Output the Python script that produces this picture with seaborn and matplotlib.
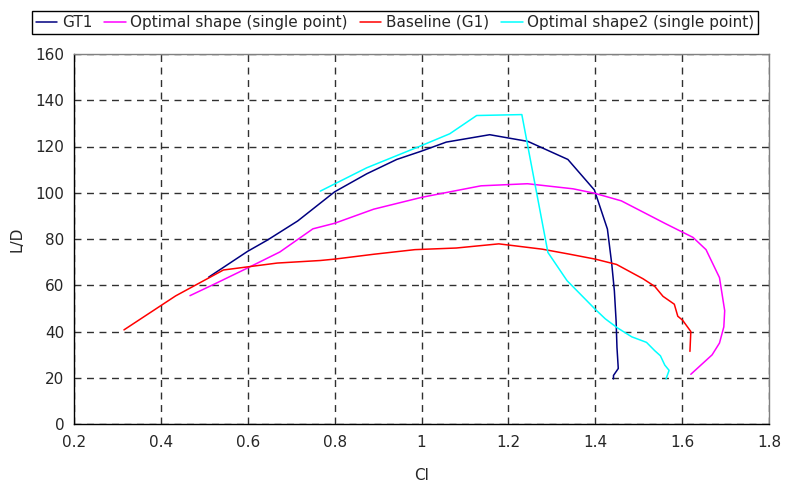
import matplotlib
matplotlib.use("Agg")
import matplotlib.pyplot as plt
import seaborn as sns
import pandas as pd
from matplotlib.lines import Line2D

gt1_cl = [0.51, 0.60, 0.645, 0.715, 0.80, 0.874, 0.943, 1.00, 1.057, 1.157, 1.245, 1.337, 1.398, 1.428, 1.438, 1.444, 1.448, 1.450, 1.453, 1.442, 1.442]
gt1_ld = [63.5, 74.7, 79.5, 87.8, 100.4, 108.2, 114.4, 118.0, 121.9, 125.1, 122.2, 114.4, 101.2, 84.3, 69.2, 57.6, 44.6, 33.1, 24.0, 21.0, 19.5]

opt_cl = [0.467, 0.522, 0.60, 0.674, 0.75, 0.80, 0.89, 1.00, 1.06, 1.137, 1.244, 1.349, 1.398, 1.46, 1.56, 1.625, 1.655, 1.686, 1.698, 1.696, 1.686, 1.669, 1.620]
opt_ld = [55.5, 60.4, 67.5, 74.4, 84.4, 86.8, 92.9, 98.0, 100.2, 103.0, 103.9, 101.7, 99.8, 96.5, 86.8, 80.7, 75.4, 63.3, 49.0, 42.0, 35.0, 29.9, 21.5]

base_cl = [0.315, 0.434, 0.544, 0.668, 0.767, 0.80, 0.89, 0.985, 1.08, 1.178, 1.278, 1.339, 1.40, 1.449, 1.510, 1.537, 1.556, 1.582, 1.590, 1.601, 1.620, 1.618]
base_ld = [40.7, 55.4, 66.6, 69.6, 70.7, 71.3, 73.4, 75.4, 76.1, 77.9, 75.6, 73.5, 71.3, 69.0, 62.8, 59.5, 55.2, 51.8, 46.6, 44.9, 40.0, 31.4]

opt2_cl = [0.767, 0.874, 1.0, 1.065, 1.127, 1.231, 1.291, 1.335, 1.40, 1.423, 1.450, 1.484, 1.518, 1.537, 1.55, 1.560, 1.570, 1.563]
opt2_ld = [100.7, 110.8, 120.4, 125.5, 133.4, 133.8, 74.2, 62.0, 49.6, 45.5, 41.7, 37.7, 35.3, 31.7, 29.5, 25.5, 23.2, 19.5]

series_names = ["GT1", "Optimal shape (single point)", "Baseline (G1)", "Optimal shape2 (single point)"]
series_colors = ["#000080", "#FF00FF", "#FF0000", "#00FFFF"]
x_ticks = [0.2, 0.4, 0.6, 0.8, 1.0, 1.2, 1.4, 1.6, 1.8]
x_tick_labels = ["0.2", "0.4", "0.6", "0.8", "1", "1.2", "1.4", "1.6", "1.8"]
y_ticks = [0, 20, 40, 60, 80, 100, 120, 140, 160]

frames = []
for name, xs, ys in zip(series_names,
                        [gt1_cl, opt_cl, base_cl, opt2_cl],
                        [gt1_ld, opt_ld, base_ld, opt2_ld]):
    frames.append(pd.DataFrame({"Cl": xs, "L/D": ys, "series": name}))
df = pd.concat(frames, ignore_index=True)

sns.set_style("white")
plt.rcParams["font.family"] = ["DejaVu Sans"]

fig = plt.figure(figsize=(7.9, 4.87), dpi=100)
ax = fig.add_axes([74/790, 63/487, (769-74)/790, (424-54)/487])

sns.lineplot(data=df, x="Cl", y="L/D", hue="series", hue_order=series_names,
             palette=dict(zip(series_names, series_colors)), sort=False,
             estimator=None, units="series", linewidth=1.1, ax=ax, legend=False)

ax.set_xlim(0.2, 1.8)
ax.set_ylim(0, 160)
ax.set_xticks(x_ticks)
ax.set_xticklabels(x_tick_labels)
ax.set_yticks(y_ticks)
ax.grid(True, color="#303030", linestyle=(0, (5, 4)), linewidth=1.0)
ax.set_axisbelow(True)
for s in ["left", "bottom"]:
    ax.spines[s].set_color("black")
    ax.spines[s].set_linewidth(1.0)
for s in ["right", "top"]:
    ax.spines[s].set_color("#808080")
    ax.spines[s].set_linewidth(1.0)
ax.tick_params(axis="both", direction="out", length=4, width=1, color="black",
               labelsize=11, pad=3)
ax.tick_params(axis="x", pad=4)
ax.set_xlabel("Cl", fontsize=11, labelpad=13)
ax.set_ylabel("L/D", fontsize=11, labelpad=8)

handles = [Line2D([], [], color=c, linewidth=1.1) for c in series_colors]
leg = fig.legend(handles, series_names, loc="upper center", bbox_to_anchor=(0.5, 0.993),
                 ncol=4, fontsize=11, frameon=True, fancybox=False, framealpha=1,
                 edgecolor="black", handlelength=1.4, handletextpad=0.3,
                 columnspacing=0.8, borderpad=0.25)
leg.get_frame().set_linewidth(1.0)

fig.savefig("out.png", dpi=100)
